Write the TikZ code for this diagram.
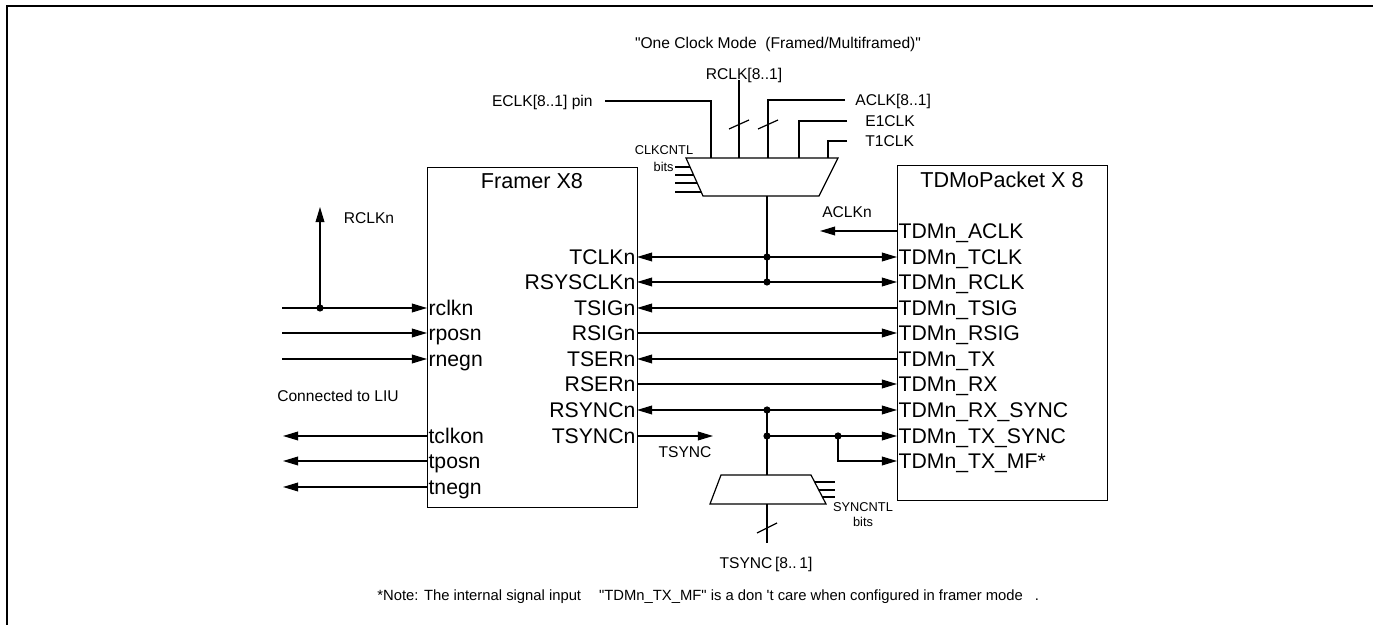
\documentclass[tikz,border=0pt]{standalone}
\usepackage{fontspec}
\setmainfont{Liberation Sans}[Ligatures=TeXOff]
\usetikzlibrary{arrows.meta,positioning,calc}
\tikzset{
  wire/.style={line width=0.6pt},
  pinr/.style={font=\fontsize{10.6}{12}\selectfont,inner sep=0.6pt,text height=7.6pt,text depth=0pt,anchor=east},
  pinl/.style={pinr,anchor=west},
  lbl/.style={font=\fontsize{7.8}{9}\selectfont,inner sep=0pt,text height=5.6pt,text depth=0pt},
  tinylbl/.style={font=\fontsize{6.4}{7.5}\selectfont,inner sep=0pt,text height=4.6pt,text depth=0pt},
  blk/.style={draw,wire,inner sep=0pt,anchor=north west},
  dot/.style={circle,fill,inner sep=0pt,minimum size=3.6pt},
}

\begin{document}
\begin{tikzpicture}[x=0.5pt,y=-0.5pt,>={Triangle[length=7.6pt,width=4.4pt]}]
  \useasboundingbox (0,0) rectangle (1373,625);
  \draw[line width=0.9pt] (7,625) -- (7,6) -- (1373,6);

  % the two blocks
  \node[blk,minimum width=105pt,minimum height=170pt] (fr) at (427,167) {};
  \node[blk,minimum width=105pt,minimum height=167.5pt] (tp) at (897,165) {};
  \node[font=\fontsize{10.8}{13}\selectfont] (frt) at (532,181) {Framer X8};
  \node[font=\fontsize{10.8}{13}\selectfont] (tpt) at (1002,180) {TDMoPacket X 8};

  % framer pins
  \foreach \n/\y in {TCLKn/257,RSYSCLKn/282,TSIGn/308,RSIGn/333,TSERn/359,RSERn/384,RSYNCn/410,TSYNCn/436}
    \node[pinr] (f\n) at (637,\y) {\n};
  \foreach \n/\y in {rclkn/308,rposn/333,rnegn/359,tclkon/436,tposn/461,tnegn/487}
    \node[pinl] (\n) at (427,\y) {\n};

  % tdmopacket pins
  \foreach \n/\t/\y in {ACLK/ACLK/231,TCLK/TCLK/257,RCLK/RCLK/282,TSIG/TSIG/308,RSIG/RSIG/333,
      TX/TX/359,RX/RX/384,rxs/RX\_SYNC/410,txs/TX\_SYNC/436,txmf/TX\_MF*/461}
    \node[pinl] (t\n) at (897,\y) {TDMn\_\t};

  % junctions
  \node[dot] (jT) at (767,257) {};
  \node[dot] (jR) at (767,282) {};
  \node[dot] (jRS) at (767,410) {};
  \node[dot] (jTS) at (767,436) {};
  \node[dot] (jMF) at (838,436) {};
  \node[dot] (jL) at (320,308) {};

  % framer <-> tdmopacket
  \foreach \a/\b/\s in {TCLKn/TCLK/<->,RSYSCLKn/RCLK/<->,TSIGn/TSIG/<-,RSIGn/RSIG/->,
      TSERn/TX/<-,RSERn/RX/->,RSYNCn/rxs/<->}
    \draw[wire,\s] (f\a.east) -- (t\b.west);
  \draw[wire,->] (jTS.center) -- (ttxs.west);
  \draw[wire,->] (jMF.center) |- (ttxmf.west);

  \coordinate (aclkEnd) at (820,231);
  \draw[wire,->] (tACLK.west) -- (aclkEnd);
  \node[lbl] (aclkn) at (847,212) {ACLKn};

  \coordinate (tsyncEnd) at (713,436);
  \draw[wire,->] (fTSYNCn.east) -- (tsyncEnd);
  \node[lbl] (tsync) at (685,452) {TSYNC};

  % clock mux
  \coordinate (cm1) at (686,158);
  \coordinate (cm2) at (838,158);
  \coordinate (cm3) at (819,196);
  \coordinate (cm4) at (703,196);
  \coordinate (cmo) at (767,196);
  \draw[wire] (cm1) -- (cm2) -- (cm3) -- (cm4) -- cycle;
  \foreach \x [count=\i] in {711,739,768,799,828}
    \coordinate (ci\i) at (\x,158);
  \foreach \y in {167,175,183,192}
    \draw[wire] (675,\y) -- ({686+17*(\y-158)/38},\y);
  \node[tinylbl] (clkcntl) at (664,150) {CLKCNTL};
  \node[tinylbl,anchor=east] (clkbits) at (674,167) {bits};
  \draw[wire] (cmo) -- (jR.center);

  \node[lbl] (title) at (778,43) {"One Clock Mode\ \ (Framed/Multiframed)"};
  \node[lbl] (rclk) at (744,74) {RCLK[8..1]};
  \node[lbl,anchor=east,inner xsep=6pt] (eclk) at (605,101) {ECLK[8..1] pin};
  \node[lbl,anchor=west,inner xsep=5pt] (aclk) at (845,100) {ACLK[8..1]};
  \node[lbl,anchor=west,inner xsep=9pt] (e1clk) at (847,121) {E1CLK};
  \node[lbl,anchor=west,inner xsep=9pt] (t1clk) at (847,141) {T1CLK};
  \draw[wire] (eclk.east) -| (ci1);
  \draw[wire] (ci2) -- (ci2 |- rclk.south);
  \draw[wire] (aclk.west) -| (ci3);
  \draw[wire] (e1clk.west) -| (ci4);
  \draw[wire] (t1clk.west) -| (ci5);
  \foreach \x in {739,768}
    \draw[wire] (\x-10,129) -- (\x+10,120);

  % sync mux
  \coordinate (sm1) at (721,475);
  \coordinate (sm2) at (811,475);
  \coordinate (sm3) at (826,504);
  \coordinate (sm4) at (710,504);
  \coordinate (smi) at (767,475);
  \coordinate (smo) at (767,504);
  \coordinate (smEnd) at (767,543);
  \draw[wire] (sm1) -- (sm2) -- (sm3) -- (sm4) -- cycle;
  \draw[wire] (jRS.center) -- (smi);
  \draw[wire] (smo) -- (smEnd);
  \draw[wire] (757,533) -- (777,523);
  \foreach \y in {482,490,497}
    \draw[wire] ({811+15*(\y-475)/29},\y) -- (835,\y);
  \node[tinylbl] (syncntl) at (863,507) {SYNCNTL};
  \node[tinylbl] (syncbits) at (863,522) {bits};
  \node[lbl] (tsyncbus) at (766,563) {TSYNC\,[8..\,1]};

  % line interface side
  \foreach \n/\x in {rclkn/282,rposn/282,rnegn/282}
    \draw[wire,->] (\n.west -| \x,0) -- (\n.west);
  \foreach \n in {tclkon,tposn,tnegn}
    \draw[wire,->] (\n.west) -- (\n.west -| 283,0);
  \coordinate (rclkUp) at (320,207);
  \draw[wire,->] (jL.center) -- (rclkUp);
  \node[lbl] (rclkn-l) at (369,218) {RCLKn};
  \node[lbl] (liu) at (338,396) {Connected to LIU};

  \node[lbl,anchor=west,font=\fontsize{7.4}{9}\selectfont] (note) at (377,595)
    {*Note: The internal signal input\hspace{9pt}"TDMn\_TX\_MF" is a don 't care when configured in framer mode\hspace{6pt}.};
\end{tikzpicture}
\end{document}
